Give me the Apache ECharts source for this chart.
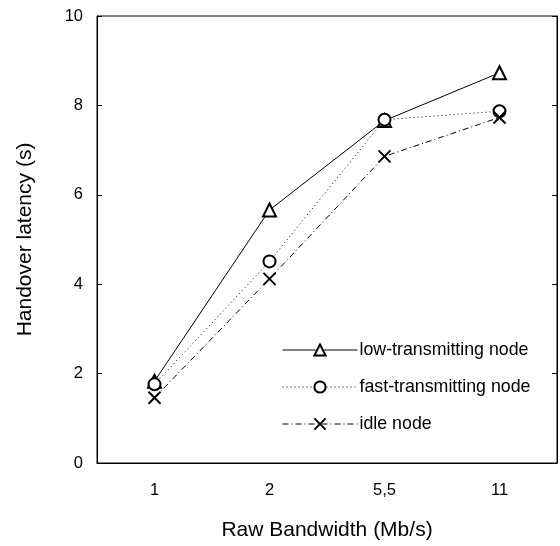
<!DOCTYPE html>
<html><head><meta charset="utf-8">
<script src="https://cdn.jsdelivr.net/npm/echarts@6/dist/echarts.min.js"></script>
<style>html,body{margin:0;padding:0;background:#fff}#c{width:560px;height:546px}</style>
</head><body><div id="c"></div>
<script>
const categories = ['1', '2', '5,5', '11'];
const lowTransmitting = [1.83, 5.66, 7.66, 8.73];
const fastTransmitting = [1.76, 4.51, 7.68, 7.87];
const idleNode = [1.46, 4.12, 6.86, 7.73];
const seriesNames = ['low-transmitting node', 'fast-transmitting node', 'idle node'];

const chart = echarts.init(document.getElementById('c'));
const font = 'Liberation Sans, Arial, sans-serif';
const xPath = 'path://M0,0L10,10M10,0L0,10';
function mk(name, data, sym, lineType, size) {
  return {
    name, type: 'line', data, symbol: sym, symbolSize: size,
    showSymbol: true,
    lineStyle: { color: '#000', width: 1, type: lineType },
    itemStyle: { color: '#fff', borderColor: '#000', borderWidth: 2 },
    emphasis: { disabled: true }, animation: false, z: 3
  };
}
chart.setOption({
  animation: false,
  textStyle: { fontFamily: font },
  grid: { left: 97, right: 3, top: 16, bottom: 82, show: true, borderColor: '#000', borderWidth: 1 },
  legend: {
    orient: 'vertical', left: 282, top: 341, padding: 0, itemWidth: 75, itemHeight: 14, itemGap: 19,
    lineStyle: { width: 1 },
    textStyle: { fontSize: 17.8, color: '#000', fontFamily: font, padding: [0, 0, 0, -3] },
    data: seriesNames
  },
  xAxis: {
    type: 'category', data: categories, boundaryGap: true,
    name: 'Raw Bandwidth (Mb/s)', nameLocation: 'middle', nameGap: 57,
    nameTextStyle: { fontSize: 21, color: '#000', fontFamily: font },
    axisLine: { lineStyle: { color: '#000' } },
    axisTick: { inside: true, length: 5, lineStyle: { color: '#000' } },
    axisLabel: { fontSize: 16.5, color: '#000', margin: 19 },
    splitLine: { show: false }
  },
  yAxis: [{
    type: 'value', min: 0, max: 10, interval: 2,
    name: 'Handover latency (s)', nameLocation: 'middle', nameGap: 61,
    nameTextStyle: { fontSize: 21, color: '#000', fontFamily: font },
    axisLine: { show: true, lineStyle: { color: '#000' } },
    axisTick: { show: true, inside: true, length: 5, lineStyle: { color: '#000' } },
    axisLabel: { fontSize: 16.5, color: '#000', margin: 14 },
    splitLine: { show: false }
  }, {
    type: 'value', min: 0, max: 10, interval: 2, position: 'right',
    axisLine: { show: true, lineStyle: { color: '#000' } },
    axisTick: { show: true, inside: true, length: 5, lineStyle: { color: '#000' } },
    axisLabel: { show: false }, splitLine: { show: false }
  }],
  series: [
    mk(seriesNames[0], lowTransmitting, 'triangle', 'solid', 13),
    mk(seriesNames[1], fastTransmitting, 'circle', [1, 3], 12),
    Object.assign(mk(seriesNames[2], idleNode, xPath, [6, 3, 1, 3], 12), {
      itemStyle: { color: 'none', borderColor: '#000', borderWidth: 2 }
    })
  ]
});
</script></body></html>
